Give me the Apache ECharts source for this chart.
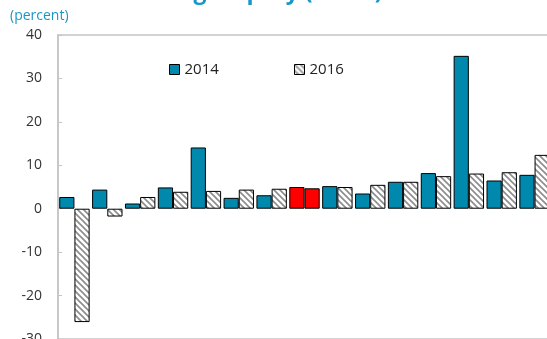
<!DOCTYPE html>
<html>
<head>
<meta charset="utf-8">
<script src="https://cdn.jsdelivr.net/npm/echarts@6/dist/echarts.min.js"></script>
<style>
  html, body { margin: 0; padding: 0; background: #fff; }
  #chart { width: 547px; height: 339px; }
</style>
</head>
<body>
<div id="chart"></div>
<script>
// Return on average equity by country group, 2014 vs 2016
const categories = ['1','2','3','4','5','6','7','8','9','10','11','12','13','14','15'];
const roae2014 = [2.7, 4.4, 1.2, 4.9, 14.1, 2.5, 3.1, 5.0, 5.2, 3.5, 6.2, 8.2, 35.2, 6.5, 7.8];
const roae2016 = [-26.1, -1.8, 2.7, 3.9, 4.1, 4.4, 4.6, 4.7, 5.0, 5.5, 6.2, 7.5, 8.1, 8.4, 12.4];
const highlightIndex = 7;          // group drawn in red
const yTicks = { min: -30, max: 40, step: 10 };

const TEAL = '#0089ad';
const RED = '#ff0000';
const TITLE_BLUE = '#1a96c6';

// diagonal hatch tile for the 2016 series
function hatchPattern() {
  const s = 6;
  const c = document.createElement('canvas');
  c.width = s; c.height = s;
  const g = c.getContext('2d');
  g.fillStyle = '#ffffff';
  g.fillRect(0, 0, s, s);
  g.strokeStyle = '#8c8c8c';
  g.lineWidth = 1.6;
  g.beginPath();
  g.moveTo(-1, -1); g.lineTo(s + 1, s + 1);
  g.moveTo(-1, s - 1); g.lineTo(1, s + 1);
  g.moveTo(s - 1, -1); g.lineTo(s + 1, 1);
  g.stroke();
  return { image: c, repeat: 'repeat' };
}
const HATCH = hatchPattern();

const data2014 = roae2014.map((v, i) => i === highlightIndex
  ? { value: v, itemStyle: { color: RED } } : v);
const data2016 = roae2016.map((v, i) => i === highlightIndex
  ? { value: v, itemStyle: { color: RED } } : v);

const chart = echarts.init(document.getElementById('chart'), null, { renderer: 'canvas' });

const legendText = { color: '#222', fontSize: 15, fontFamily: 'Open Sans' };

chart.setOption({
  animation: false,
  backgroundColor: '#fff',
  graphic: [
    {
      type: 'text', left: 6, top: -19,
      style: {
        text: 'Return on Average Equity (ROAE)',
        fill: TITLE_BLUE, font: 'bold 23px "Open Sans"'
      }
    },
    {
      type: 'text', left: 10, top: 9,
      style: {
        text: '(percent)', fill: TITLE_BLUE, font: '14px "Open Sans"'
      }
    }
  ],
  grid: {
    left: 58, top: 35, right: -4, bottom: 0,
    show: true, borderColor: '#c4c4c4', borderWidth: 1.5,
    outerBoundsMode: 'none',
    containLabel: false
  },
  legend: [
    {
      left: 169, top: 62, padding: 0, icon: 'rect', itemWidth: 10, itemHeight: 10,
      textStyle: legendText, data: ['2014'], itemStyle: { borderColor: '#000', borderWidth: 1 }
    },
    {
      left: 294, top: 62, padding: 0, icon: 'rect', itemWidth: 10, itemHeight: 10,
      textStyle: legendText, data: ['2016'], itemStyle: { borderColor: '#000', borderWidth: 1 }
    }
  ],
  xAxis: {
    type: 'category', data: categories,
    axisLine: { show: false }, axisTick: { show: false }, axisLabel: { show: false }
  },
  yAxis: {
    type: 'value', min: yTicks.min, max: yTicks.max, interval: yTicks.step,
    axisLine: { show: true, lineStyle: { color: '#c4c4c4', width: 1.5 } },
    axisTick: { show: true, inside: true, length: 4, lineStyle: { color: '#c4c4c4' } },
    splitLine: { show: false },
    axisLabel: { color: '#333', fontSize: 14, margin: 16, fontFamily: 'Open Sans' }
  },
  series: [
    {
      name: '2014', type: 'bar', data: data2014,
      barWidth: 15.2, barGap: '0%',
      itemStyle: { color: TEAL, borderColor: '#000', borderWidth: 1 }
    },
    {
      name: '2016', type: 'bar', data: data2016,
      barWidth: 15.2, barGap: '0%',
      itemStyle: { color: HATCH, borderColor: '#000', borderWidth: 1 }
    }
  ]
});
</script>
</body>
</html>
